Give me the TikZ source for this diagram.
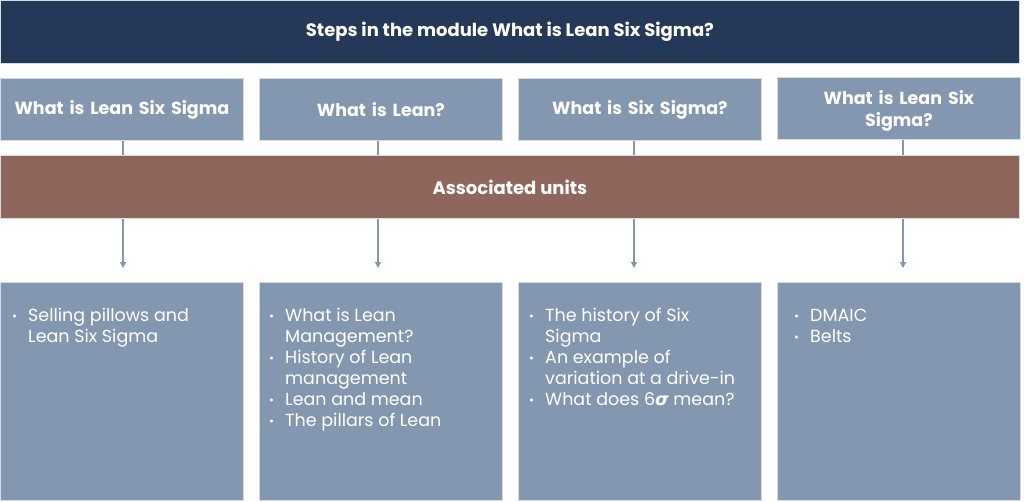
\documentclass[tikz,border=0pt]{standalone}
\usepackage{fontspec}
\setmainfont{Poppins}
\newfontfamily\symfont{DejaVu Sans}
\usetikzlibrary{arrows.meta}
\definecolor{navy}{HTML}{243858}
\definecolor{steel}{HTML}{8497B0}
\definecolor{brick}{HTML}{8F665B}
\definecolor{edge}{HTML}{D5DCE6}
\newcommand{\bul}{\makebox[16pt][l]{\raisebox{1pt}{\fontsize{12}{12}\selectfont\textbullet}}}
\tikzset{
  box/.style={draw=edge, line width=0.8pt, inner sep=0pt, anchor=north west, text=white},
  headbox/.style={box, fill=steel, minimum width=243pt, minimum height=62pt, text width=236pt, align=center, font=\bfseries\fontsize{17.5}{22}\selectfont},
  listbox/.style={box, fill=steel, minimum width=243pt, minimum height=218pt},
  listtext/.style={anchor=north west, inner sep=0pt, text=white, font=\fontsize{17.5}{21}\selectfont},
  link/.style={draw=steel, line width=1.2pt},
  arr/.style={link, -{Triangle[length=6pt,width=6pt]}}
}
\begin{document}
\begin{tikzpicture}[x=1pt,y=-1pt]
\useasboundingbox (0,0) rectangle (1024,501);
\fill[white] (0,0) rectangle (1024,501);
% title
\node[box, fill=navy, minimum width=1019pt, minimum height=63pt, font=\bfseries\fontsize{18}{22}\selectfont] (title) at (0,0) {Steps in the module What is Lean Six Sigma?};
% step boxes
\node[headbox] (t1) at (0,78) {What is Lean Six Sigma};
\node[headbox] (t2) at (259,78) {What is Lean?};
\node[headbox] (t3) at (518,78) {What is Six Sigma?};
\node[headbox] (t4) at (777,77) {\rule{0pt}{20pt}What is Lean Six\\Sigma?};
% arrow end points
\coordinate (a1) at (123,268);
\coordinate (a2) at (378,268);
\coordinate (a3) at (634,268);
\coordinate (a4) at (903,268);
% bar
\node[box, fill=brick, minimum width=1019pt, minimum height=63pt, font=\bfseries\fontsize{18}{22}\selectfont] (bar) at (0,155) {Associated units};
% connectors
\foreach \i in {1,2,3,4}{
  \draw[link] (a\i |- t\i.south) -- (a\i |- bar.north);
  \draw[arr] (a\i |- bar.south) -- (a\i);
}
% unit boxes
\node[listbox] (b1) at (0,282) {};
\node[listbox] (b2) at (259,282) {};
\node[listbox] (b3) at (518,282) {};
\node[listbox] (b4) at (777,282) {};
\node[listtext] (l1) at ([xshift=12pt,yshift=-25pt]b1.north west) {%
  \begin{tabular}{@{}l@{}l@{}}
  \bul & Selling pillows and\\
       & Lean Six Sigma
  \end{tabular}};
\node[listtext] (l2) at ([xshift=10pt,yshift=-25pt]b2.north west) {%
  \begin{tabular}{@{}l@{}l@{}}
  \bul & What is Lean\\
       & Management?\\
  \bul & History of Lean\\
       & management\\
  \bul & Lean and mean\\
  \bul & The pillars of Lean
  \end{tabular}};
\node[listtext] (l3) at ([xshift=11pt,yshift=-25pt]b3.north west) {%
  \begin{tabular}{@{}l@{}l@{}}
  \bul & The history of Six\\
       & Sigma\\
  \bul & An example of\\
       & variation at a drive-in\\
  \bul & What does 6{\symfont\bfseries\itshape σ} mean?
  \end{tabular}};
\node[listtext] (l4) at ([xshift=17pt,yshift=-25pt]b4.north west) {%
  \begin{tabular}{@{}l@{}l@{}}
  \bul & DMAIC\\
  \bul & Belts
  \end{tabular}};
\end{tikzpicture}
\end{document}
